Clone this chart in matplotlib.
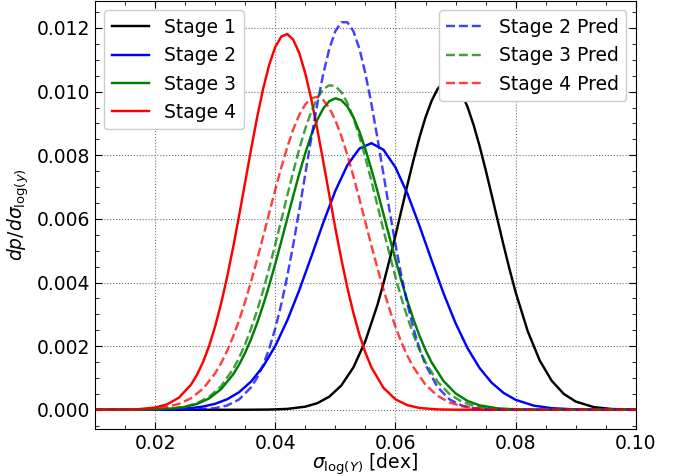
import numpy as np
import matplotlib
matplotlib.use('Agg')
import matplotlib.pyplot as plt
from matplotlib.ticker import AutoMinorLocator

# sigma_log(Y) [dex] and dp/dsigma
# (dp/dsigma values are in units of 1e-3)

stage1_x = [0.010, 0.030, 0.035, 0.039, 0.042, 0.045, 0.047, 0.049, 0.051, 0.053, 0.055,
            0.057, 0.058, 0.059, 0.060, 0.061, 0.062, 0.063, 0.064, 0.065, 0.066, 0.067, 0.068,
            0.069, 0.070, 0.071, 0.072, 0.073, 0.074, 0.075, 0.076, 0.077, 0.078, 0.079, 0.080,
            0.082, 0.084, 0.086, 0.088, 0.090, 0.093, 0.096, 0.100]
stage1_y = [0.0, 0.0, 0.001, 0.007, 0.028, 0.098, 0.208, 0.413, 0.766, 1.331, 2.163,
            3.295, 3.969, 4.701, 5.477, 6.277, 7.078, 7.849, 8.565, 9.192, 9.704, 10.08, 10.30,
            10.35, 10.23, 9.946, 9.515, 8.953, 8.288, 7.546, 6.760, 5.956, 5.163, 4.402, 3.692,
            2.473, 1.550, 0.911, 0.500, 0.258, 0.084, 0.024, 0.004]

stage2_x = [0.010, 0.016, 0.020, 0.023, 0.026,
            0.028, 0.030, 0.032, 0.034, 0.036, 0.038, 0.040, 0.042, 0.044, 0.046, 0.048, 0.050,
            0.052, 0.054, 0.056, 0.058, 0.060, 0.062, 0.064, 0.066, 0.068, 0.070, 0.072, 0.074,
            0.076, 0.078, 0.080,
            0.083, 0.086, 0.090, 0.095, 0.100]
stage2_y = [0.0, 0.001, 0.006, 0.018, 0.053,
            0.103, 0.188, 0.331, 0.555, 0.892, 1.367, 2.004, 2.809, 3.761, 4.813, 5.887, 6.882,
            7.689, 8.211, 8.380, 8.173, 7.620, 6.789, 5.781, 4.705, 3.660, 2.721, 1.933, 1.312,
            0.852, 0.529, 0.313,
            0.131, 0.050, 0.012, 0.002, 0.0]

stage3_x = [0.010, 0.016, 0.020, 0.023, 0.025, 0.027, 0.029, 0.031, 0.033,
            0.034, 0.035, 0.036, 0.037, 0.038, 0.039, 0.040, 0.041, 0.042, 0.043, 0.044, 0.045,
            0.046, 0.047, 0.048, 0.049, 0.050, 0.051, 0.052, 0.053, 0.054, 0.055, 0.056, 0.057,
            0.058, 0.059, 0.060, 0.061, 0.062, 0.063, 0.064, 0.065, 0.066,
            0.068, 0.070, 0.072, 0.074, 0.077, 0.080, 0.084, 0.090, 0.100]
stage3_y = [0.0, 0.002, 0.012, 0.042, 0.090, 0.185, 0.357, 0.650, 1.113,
            1.424, 1.796, 2.233, 2.733, 3.296, 3.917, 4.586, 5.289, 6.010, 6.730, 7.424, 8.068,
            8.640, 9.115, 9.474, 9.702, 9.790, 9.731, 9.531, 9.197, 8.743, 8.189, 7.558, 6.872,
            6.156, 5.432, 4.724, 4.047, 3.416, 2.840, 2.327, 1.879, 1.494,
            0.904, 0.515, 0.277, 0.140, 0.045, 0.013, 0.002, 0.0, 0.0]

stage4_x = [0.010, 0.014, 0.017, 0.020, 0.022, 0.024, 0.026,
            0.027, 0.028, 0.029, 0.030, 0.031, 0.032, 0.033, 0.034, 0.035, 0.036, 0.037, 0.038,
            0.039, 0.040, 0.041, 0.042, 0.043, 0.044, 0.045, 0.046, 0.047, 0.048, 0.049, 0.050,
            0.051, 0.052, 0.053, 0.054, 0.055, 0.056,
            0.058, 0.060, 0.062, 0.064, 0.067, 0.070, 0.075, 0.080, 0.090, 0.100]
stage4_y = [0.0, 0.003, 0.015, 0.069, 0.170, 0.384, 0.794,
            1.105, 1.507, 2.008, 2.621, 3.346, 4.181, 5.111, 6.117, 7.163, 8.209, 9.206, 10.10,
            10.85, 11.40, 11.73, 11.81, 11.63, 11.21, 10.57, 9.760, 8.816, 7.793, 6.742, 5.708,
            4.729, 3.835, 3.042, 2.362, 1.795, 1.335,
            0.691, 0.329, 0.143, 0.057, 0.012, 0.002, 0.0, 0.0, 0.0, 0.0]

stage2_pred_x = [0.010, 0.020, 0.024, 0.027, 0.030, 0.032, 0.034, 0.036,
                 0.037, 0.038, 0.039, 0.040, 0.041, 0.042, 0.043, 0.044, 0.045, 0.046, 0.047,
                 0.048, 0.049, 0.050, 0.051, 0.052, 0.053, 0.054, 0.055, 0.056, 0.057, 0.058,
                 0.059, 0.060, 0.061, 0.062, 0.063, 0.064, 0.065,
                 0.067, 0.069, 0.071, 0.073, 0.076, 0.080, 0.085, 0.090, 0.100]
stage2_pred_y = [0.0, 0.0, 0.002, 0.010, 0.051, 0.136, 0.326, 0.712,
                 1.015, 1.414, 1.923, 2.554, 3.315, 4.200, 5.197, 6.280, 7.412, 8.543, 9.617,
                 10.57, 11.35, 11.90, 12.18, 12.18, 11.90, 11.35, 10.57, 9.617, 8.543, 7.412,
                 6.280, 5.197, 4.200, 3.315, 2.554, 1.923, 1.414,
                 0.712, 0.326, 0.136, 0.051, 0.010, 0.001, 0.0, 0.0, 0.0]

stage3_pred_x = [0.010, 0.016, 0.020, 0.023, 0.025, 0.027, 0.029, 0.031, 0.033,
                 0.034, 0.035, 0.036, 0.037, 0.038, 0.039, 0.040, 0.041, 0.042, 0.043, 0.044,
                 0.045, 0.046, 0.047, 0.048, 0.049, 0.050, 0.051, 0.052, 0.053, 0.054, 0.055,
                 0.056, 0.057, 0.058, 0.059, 0.060, 0.061, 0.062, 0.063, 0.064, 0.065,
                 0.067, 0.069, 0.071, 0.073, 0.076, 0.079, 0.083, 0.090, 0.100]
stage3_pred_y = [0.0, 0.002, 0.013, 0.046, 0.101, 0.210, 0.408, 0.746, 1.281,
                 1.640, 2.066, 2.564, 3.131, 3.765, 4.458, 5.195, 5.961, 6.733, 7.488, 8.199,
                 8.837, 9.377, 9.797, 10.08, 10.20, 10.17, 9.982, 9.644, 9.175, 8.592, 7.921,
                 7.190, 6.425, 5.652, 4.896, 4.175, 3.504, 2.897, 2.356, 1.888, 1.489,
                 0.884, 0.492, 0.258, 0.127, 0.039, 0.010, 0.001, 0.0, 0.0]

stage4_pred_x = [0.010, 0.014, 0.017, 0.020, 0.022, 0.024, 0.026, 0.028,
                 0.030, 0.031, 0.032, 0.033, 0.034, 0.035, 0.036, 0.037, 0.038, 0.039, 0.040,
                 0.041, 0.042, 0.043, 0.044, 0.045, 0.046, 0.047, 0.048, 0.049, 0.050, 0.051,
                 0.052, 0.053, 0.054, 0.055, 0.056, 0.057, 0.058, 0.059, 0.060, 0.061, 0.062,
                 0.063,
                 0.065, 0.067, 0.069, 0.071, 0.074, 0.077, 0.080, 0.085, 0.090, 0.100]
stage4_pred_y = [0.0, 0.003, 0.011, 0.041, 0.091, 0.187, 0.364, 0.666,
                 1.145, 1.468, 1.854, 2.306, 2.823, 3.406, 4.045, 4.733, 5.453, 6.188, 6.918,
                 7.614, 8.256, 8.815, 9.269, 9.600, 9.792, 9.837, 9.733, 9.484, 9.101, 8.602,
                 8.008, 7.341, 6.628, 5.894, 5.163, 4.453, 3.783, 3.165, 2.608, 2.117, 1.692,
                 1.332,
                 0.788, 0.439, 0.230, 0.114, 0.036, 0.009, 0.002, 0.0, 0.0, 0.0]

stage_labels = ['Stage 1', 'Stage 2', 'Stage 3', 'Stage 4']
pred_labels = ['Stage 2 Pred', 'Stage 3 Pred', 'Stage 4 Pred']
stage_colors = ['black', 'blue', 'green', 'red']
pred_colors = ['blue', 'green', 'red']


def plot_stages(output_path):
    plt.rcParams['font.size'] = 13.5
    fig, ax = plt.subplots(figsize=(6.83, 4.76), dpi=100)
    fig.subplots_adjust(left=0.139, right=0.931, bottom=0.099, top=0.998)

    stages = [(stage1_x, stage1_y), (stage2_x, stage2_y), (stage3_x, stage3_y), (stage4_x, stage4_y)]
    preds = [(stage2_pred_x, stage2_pred_y), (stage3_pred_x, stage3_pred_y), (stage4_pred_x, stage4_pred_y)]

    solid_lines = []
    for (x, y), c, lab in zip(stages, stage_colors, stage_labels):
        line, = ax.plot(x, np.array(y) * 1e-3, color=c, lw=1.75, label=lab)
        solid_lines.append(line)

    dashed_lines = []
    for (x, y), c, lab in zip(preds, pred_colors, pred_labels):
        line, = ax.plot(x, np.array(y) * 1e-3, color=c, lw=1.75, ls='--', alpha=0.75, label=lab)
        dashed_lines.append(line)

    ax.set_xlim(0.01, 0.10)
    ax.set_ylim(-0.0006, 0.01285)
    ax.xaxis.set_minor_locator(AutoMinorLocator())
    ax.yaxis.set_minor_locator(AutoMinorLocator())
    ax.tick_params(which='both', direction='in', top=True, right=True)
    ax.tick_params(which='major', length=5)
    ax.tick_params(which='minor', length=3)
    ax.grid(True, which='major', linestyle=':', color='0.45', lw=0.8)

    # keep the subscript inside the bottom edge
    ax.set_xlabel(r'$\sigma_{\log(Y)}$ [dex]', labelpad=-1)
    ax.set_ylabel(r'$dp/d\sigma_{\log(y)}$')

    leg1 = ax.legend(handles=solid_lines, loc='upper left', framealpha=1)
    ax.add_artist(leg1)
    ax.legend(handles=dashed_lines, loc='upper right', framealpha=1)

    fig.savefig(output_path, dpi=100)


if __name__ == '__main__':
    plot_stages('out.png')
